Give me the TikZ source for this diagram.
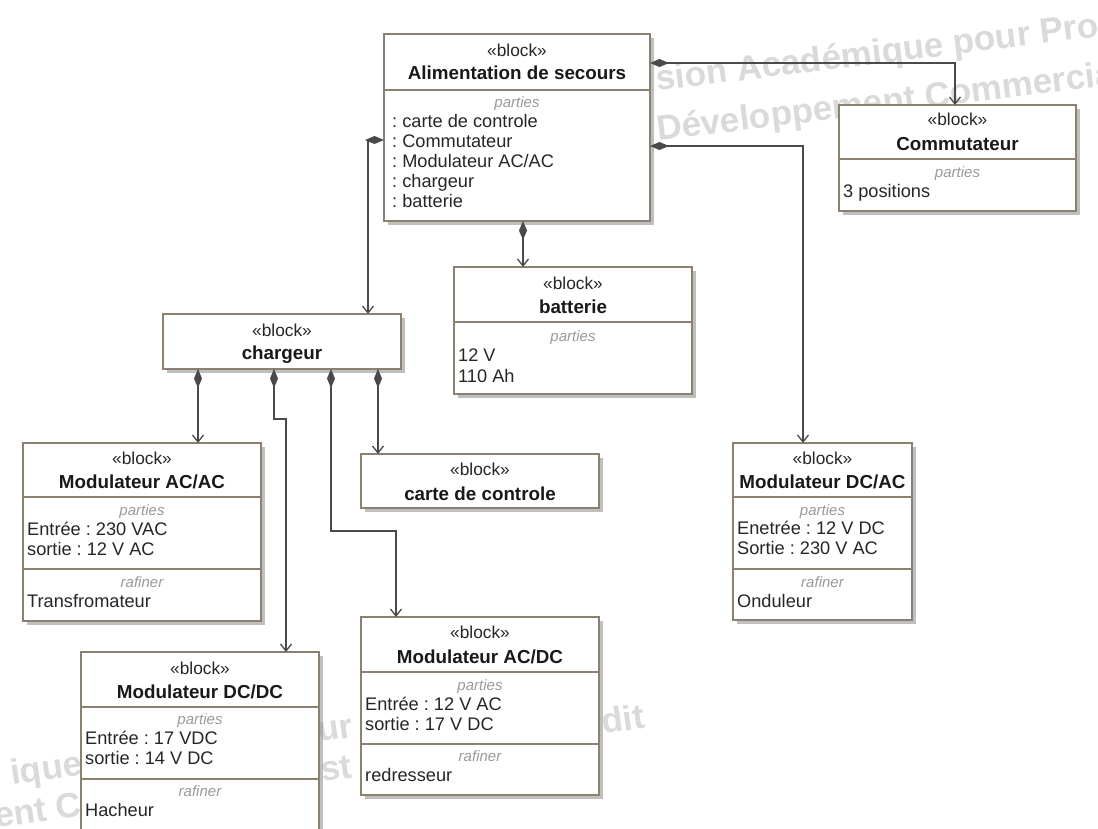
\documentclass[tikz,border=0pt]{standalone}
\usepackage{fontspec}
\setmainfont{Liberation Sans}
\usetikzlibrary{arrows.meta,shadows}
\definecolor{bordc}{HTML}{8C8070}
\definecolor{linec}{HTML}{4A4A4A}
\definecolor{partc}{HTML}{9A9A9A}
\definecolor{wmc}{HTML}{DADADA}
\definecolor{txtc}{HTML}{262626}
\frenchspacing
\begin{document}
\begin{tikzpicture}[x=1pt,y=-1pt,
  box/.style={draw=bordc, line width=1.3pt, fill=white, inner sep=0pt, outer sep=0pt, anchor=north west,
    drop shadow={shadow xshift=4pt, shadow yshift=-4pt, fill=black!45, opacity=.55}},
  sepline/.style={draw=bordc, line width=1.1pt},
  st/.style={font=\fontsize{17.3}{20}\selectfont, text=txtc, anchor=base, inner sep=0pt},
  ttl/.style={font=\fontsize{18.8}{22}\selectfont\bfseries, text=black!90, anchor=base, inner sep=0pt},
  prt/.style={font=\fontsize{15}{18}\selectfont\itshape, text=partc, anchor=base, inner sep=0pt},
  itm/.style={font=\fontsize{18.2}{20}\selectfont, text=txtc, anchor=base west, inner sep=0pt},
  comp/.style={draw=linec, line width=1.3pt,
    {Diamond[length=19pt,width=8pt,fill=linec]}-{Straight Barb[length=7pt,width=11pt]}},
  wm/.style={font=\fontsize{35}{40}\selectfont\bfseries, text=wmc, anchor=base west, inner sep=0pt}
]
\useasboundingbox (0,0) rectangle (1098,828);
\clip (0,0) rectangle (1098,828);
\fill[white] (0,0) rectangle (1098,828);

% watermark fragments
\node[wm, rotate=7] (wm1) at (657,91) {sion Académique pour Pro};
\node[wm, rotate=7] (wm2) at (658,141) {Développement Commercia};
\node[wm, rotate=8] (wm3) at (12,785) {ique};
\node[wm, rotate=8] (wm4) at (-4,828) {ent C};
\node[wm, rotate=8] (wm5) at (319,742) {ur};
\node[wm, rotate=8] (wm6) at (322,782) {st};
\node[wm, rotate=8] (wm7) at (603,734) {dit};

% boxes
\node[box, minimum width=266pt, minimum height=187pt] (alim) at (384,34) {};
\node[box, minimum width=237pt, minimum height=106pt] (comm) at (839,105) {};
\node[box, minimum width=238pt, minimum height=55pt] (charg) at (163,314) {};
\node[box, minimum width=238pt, minimum height=127pt] (batt) at (454,267) {};
\node[box, minimum width=238pt, minimum height=54pt] (carte) at (361,454) {};
\node[box, minimum width=238pt, minimum height=178pt] (acac) at (23,443) {};
\node[box, minimum width=238pt, minimum height=190pt] (dcdc) at (81,652) {};
\node[box, minimum width=238pt, minimum height=178pt] (acdc) at (361,617) {};
\node[box, minimum width=179pt, minimum height=177pt] (dcac) at (733,443) {};

% separators
\draw[sepline] (alim.west |- 0,90) -- (alim.east |- 0,90);
\draw[sepline] (comm.west |- 0,159) -- (comm.east |- 0,159);
\draw[sepline] (batt.west |- 0,322) -- (batt.east |- 0,322);
\draw[sepline] (acac.west |- 0,497) -- (acac.east |- 0,497);
\draw[sepline] (acac.west |- 0,569) -- (acac.east |- 0,569);
\draw[sepline] (dcdc.west |- 0,707) -- (dcdc.east |- 0,707);
\draw[sepline] (dcdc.west |- 0,779) -- (dcdc.east |- 0,779);
\draw[sepline] (acdc.west |- 0,672) -- (acdc.east |- 0,672);
\draw[sepline] (acdc.west |- 0,744) -- (acdc.east |- 0,744);
\draw[sepline] (dcac.west |- 0,497) -- (dcac.east |- 0,497);
\draw[sepline] (dcac.west |- 0,569) -- (dcac.east |- 0,569);

% Alimentation de secours
\node[st] (alim-s) at (517,56) {«block»};
\node[ttl] (alim-t) at (517,79) {Alimentation de secours};
\node[prt] (alim-p) at (517,107) {parties};
\node[itm] (alim-1) at (392,127) {: carte de controle};
\node[itm] (alim-2) at (392,147) {: Commutateur};
\node[itm] (alim-3) at (392,167) {: Modulateur AC/AC};
\node[itm] (alim-4) at (392,187) {: chargeur};
\node[itm] (alim-5) at (392,207) {: batterie};

% Commutateur
\node[st] (comm-s) at (957.5,125) {«block»};
\node[ttl] (comm-t) at (957.5,150) {Commutateur};
\node[prt] (comm-p) at (957.5,177) {parties};
\node[itm] (comm-1) at (843,197) {3 positions};

% chargeur
\node[st] (charg-s) at (282,336) {«block»};
\node[ttl] (charg-t) at (282,359) {chargeur};

% batterie
\node[st] (batt-s) at (573,289) {«block»};
\node[ttl] (batt-t) at (573,313) {batterie};
\node[prt] (batt-p) at (573,341) {parties};
\node[itm] (batt-1) at (458,361) {12 V};
\node[itm] (batt-2) at (458,382) {110 Ah};

% carte de controle
\node[st] (carte-s) at (480,475) {«block»};
\node[ttl] (carte-t) at (480,500) {carte de controle};

% Modulateur AC/AC
\node[st] (acac-s) at (142,464) {«block»};
\node[ttl] (acac-t) at (142,488) {Modulateur AC/AC};
\node[prt] (acac-p) at (142,515) {parties};
\node[itm] (acac-1) at (27,535) {Entrée : 230 VAC};
\node[itm] (acac-2) at (27,555) {sortie : 12 V AC};
\node[prt] (acac-r) at (142,587) {rafiner};
\node[itm] (acac-3) at (27,607) {Transfromateur};

% Modulateur DC/DC
\node[st] (dcdc-s) at (200,674) {«block»};
\node[ttl] (dcdc-t) at (200,698) {Modulateur DC/DC};
\node[prt] (dcdc-p) at (200,724) {parties};
\node[itm] (dcdc-1) at (85,744) {Entrée : 17 VDC};
\node[itm] (dcdc-2) at (85,764) {sortie : 14 V DC};
\node[prt] (dcdc-r) at (200,796) {rafiner};
\node[itm] (dcdc-3) at (85,816) {Hacheur};

% Modulateur AC/DC
\node[st] (acdc-s) at (480,638) {«block»};
\node[ttl] (acdc-t) at (480,663) {Modulateur AC/DC};
\node[prt] (acdc-p) at (480,690) {parties};
\node[itm] (acdc-1) at (365,710) {Entrée : 12 V AC};
\node[itm] (acdc-2) at (365,730) {sortie : 17 V DC};
\node[prt] (acdc-r) at (480,761) {rafiner};
\node[itm] (acdc-3) at (365,781) {redresseur};

% Modulateur DC/AC
\node[st] (dcac-s) at (822.5,464) {«block»};
\node[ttl] (dcac-t) at (822.5,488) {Modulateur DC/AC};
\node[prt] (dcac-p) at (822.5,515) {parties};
\node[itm] (dcac-1) at (737,534) {Enetrée : 12 V DC};
\node[itm] (dcac-2) at (737,554) {Sortie : 230 V AC};
\node[prt] (dcac-r) at (822.5,587) {rafiner};
\node[itm] (dcac-3) at (737,607) {Onduleur};

% connectors
\draw[comp] (alim.east |- 0,63) -| (comm.north -| 955,0);
\draw[comp] (alim.east |- 0,146) -| (dcac.north -| 803,0);
\draw[comp] (alim.west |- 0,140) -| (charg.north -| 368,0);
\draw[comp] (alim.south -| 523,0) -- (batt.north -| 523,0);
\draw[comp] (charg.south -| 198,0) -- (acac.north -| 198,0);
\draw[comp] (charg.south -| 274,0) -- (274,419) -- (286,419) -- (dcdc.north -| 286,0);
\draw[comp] (charg.south -| 331,0) -- (331,531) -- (396,531) -- (acdc.north -| 396,0);
\draw[comp] (charg.south -| 378,0) -- (carte.north -| 378,0);
\end{tikzpicture}
\end{document}
